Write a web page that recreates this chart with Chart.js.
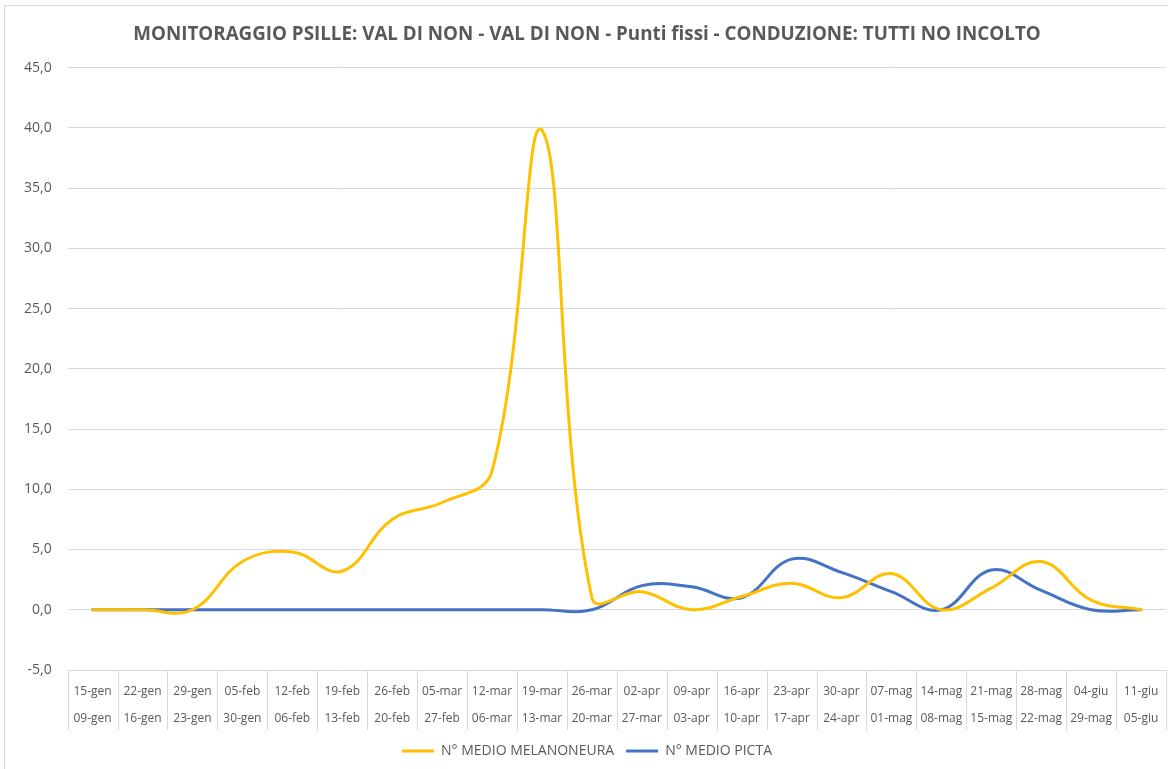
<!DOCTYPE html>
<html>
<head>
<meta charset="utf-8">
<script src="https://cdn.jsdelivr.net/npm/chart.js@4/dist/chart.umd.min.js"></script>
<style>
  body {margin: 0; background: #fff;}
  #wrap {position: relative; width: 1168px; height: 769px;}
  #frame {position: absolute; left: 4px; top: 5px; width: 1200px; height: 800px; border: 1px solid #d9d9d9; pointer-events: none;}
</style>
</head>
<body>
<div id="wrap">
  <canvas id="chart" width="1168" height="769"></canvas>
  <div id="frame"></div>
</div>
<script>
let weeks_top = ["15-gen","22-gen","29-gen","05-feb","12-feb","19-feb","26-feb","05-mar","12-mar","19-mar","26-mar",
    "02-apr","09-apr","16-apr","23-apr","30-apr","07-mag","14-mag","21-mag","28-mag","04-giu","11-giu"]
let weeks_bottom = ["09-gen","16-gen","23-gen","30-gen","06-feb","13-feb","20-feb","27-feb","06-mar","13-mar","20-mar",
    "27-mar","03-apr","10-apr","17-apr","24-apr","01-mag","08-mag","15-mag","22-mag","29-mag","05-giu"]
let melanoneura = [0, 0, 0, 4.0, 4.8, 3.2, 7.5, 8.9, 11.5, 39.8, 1.0,
    1.5, 0, 1.1, 2.2, 1.0, 3.0, 0, 1.8, 4.0, 0.8, 0]
let picta = [0, 0, 0, 0, 0, 0, 0, 0, 0, 0, 0,
    2.0, 1.9, 1.0, 4.2, 3.1, 1.5, 0, 3.3, 1.6, 0, 0]
let y_min = -5
let y_max = 45
let y_step = 5

let labels = weeks_top.map((w, i) => [w, weeks_bottom[i]])
let text_color = "#595959"
let grid_color = "#d9d9d9"

// vertical separators of the category table below the plot
let category_table = {
    id: "category_table",
    afterDraw(chart) {
        let x = chart.scales.x
        let ctx = chart.ctx
        let n = chart.data.labels.length
        let top = chart.chartArea.bottom
        let bottom = x.bottom - 2
        ctx.save()
        ctx.strokeStyle = grid_color
        ctx.lineWidth = 1
        for (let i = 0; i <= n; i++) {
            let px
            if (i == 0) px = x.left
            else if (i == n) px = x.right
            else px = (x.getPixelForValue(i - 1) + x.getPixelForValue(i)) / 2
            px = Math.round(px) + 0.5
            ctx.beginPath()
            ctx.moveTo(px, top)
            ctx.lineTo(px, bottom)
            ctx.stroke()
        }
        ctx.restore()
    }
}

new Chart("chart", {
    type: "line",
    data: {
        labels: labels,
        datasets: [
            {label: "N° MEDIO MELANONEURA", data: melanoneura, borderColor: "#FFC000", backgroundColor: "#FFC000", borderWidth: 3},
            {label: "N° MEDIO PICTA", data: picta, borderColor: "#4472C4", backgroundColor: "#4472C4", borderWidth: 3}
        ]
    },
    options: {
        responsive: false,
        animation: {duration: 0},
        layout: {padding: {left: 8, right: 2, top: 14, bottom: 1}},
        elements: {
            line: {borderWidth: 3, tension: 0.4, borderCapStyle: "round"},
            point: {radius: 0}
        },
        scales: {
            x: {
                offset: true,
                grid: {display: false},
                border: {display: false},
                ticks: {
                    color: text_color, font: {family: "Open Sans", size: 12, lineHeight: 2.25},
                    padding: 0, maxRotation: 0, autoSkip: false
                },
            },
            y: {
                min: y_min, max: y_max,
                grid: {color: grid_color, drawTicks: false},
                border: {display: false},
                ticks: {
                    stepSize: y_step, color: text_color, padding: 16,
                    font: {family: "Open Sans", size: 14},
                    callback: (v) => v.toFixed(1).replace(".", ",")
                }
            }
        },
        plugins: {
            title: {
                display: true,
                text: "MONITORAGGIO PSILLE: VAL DI NON - VAL DI NON - Punti fissi - CONDUZIONE: TUTTI NO INCOLTO",
                color: text_color,
                font: {family: "Open Sans", size: 18.8, weight: "bold"},
                padding: {top: 9, bottom: 22}
            },
            legend: {
                position: "bottom",
                labels: {
                    color: text_color, font: {family: "Open Sans", size: 14},
                    usePointStyle: true, pointStyle: "line", pointStyleWidth: 32, padding: 12
                }
            },
            tooltip: {enabled: false}
        }
    },
    plugins: [category_table]
})
</script>
</body>
</html>
